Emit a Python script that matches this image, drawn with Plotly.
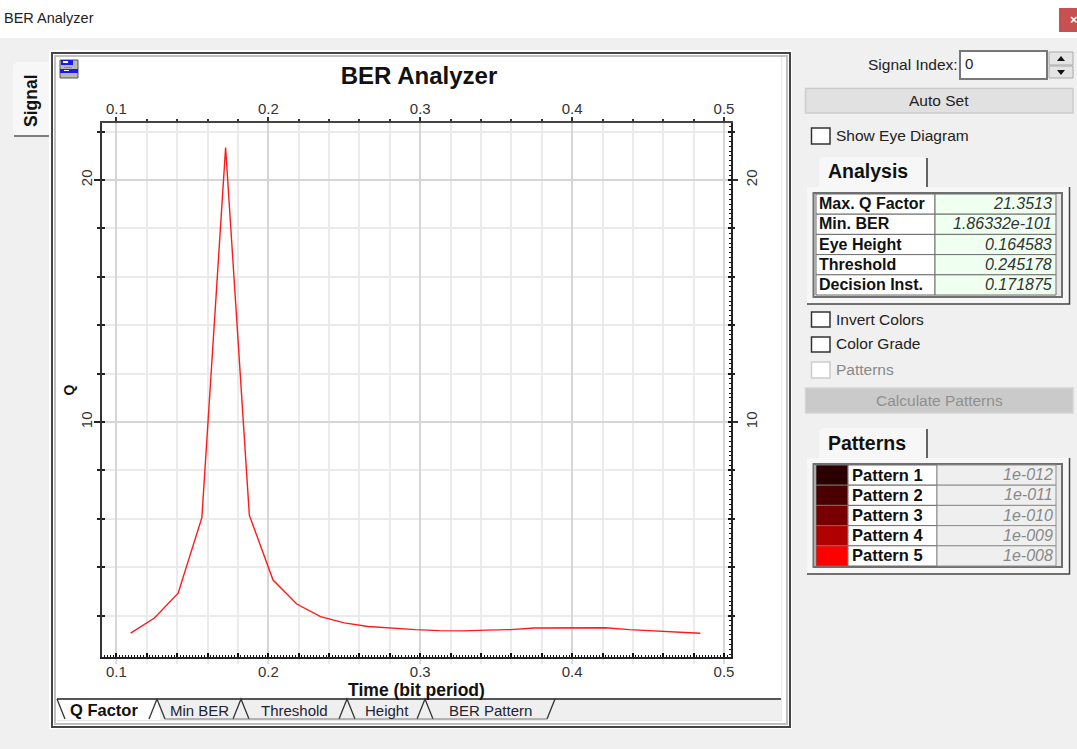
import plotly.graph_objects as go

W, H = 1077, 749

# ---- chart data ----
Q_TIME = [0.109375, 0.125, 0.140625, 0.15625, 0.171875, 0.1875, 0.203125, 0.21875,
          0.234375, 0.25, 0.265625, 0.28125, 0.296875, 0.3125, 0.328125, 0.34375,
          0.359375, 0.375, 0.390625, 0.40625, 0.421875, 0.4375, 0.453125, 0.46875, 0.484375]
Q_VALUES = [1.28, 1.90, 2.93, 6.05, 21.35, 6.15, 3.47, 2.48,
            1.96, 1.70, 1.55, 1.48, 1.42, 1.38, 1.37, 1.40,
            1.42, 1.49, 1.50, 1.50, 1.50, 1.42, 1.37, 1.32, 1.27]
X_RANGE = [0.0905, 0.5046]
Y_RANGE = [0.29, 22.36]

ANALYSIS_LABELS = ["Max. Q Factor", "Min. BER", "Eye Height", "Threshold", "Decision Inst."]
ANALYSIS_VALUES = ["21.3513", "1.86332e-101", "0.164583", "0.245178", "0.171875"]
PATTERN_LABELS = ["Pattern 1", "Pattern 2", "Pattern 3", "Pattern 4", "Pattern 5"]
PATTERN_VALUES = ["1e-012", "1e-011", "1e-010", "1e-009", "1e-008"]
PATTERN_COLORS = ["#2b0000", "#4a0000", "#780000", "#b00000", "#ff0000"]
TAB_LABELS = ["Min BER", "Threshold", "Height", "BER Pattern"]

FONT = "Liberation Sans"
BG = "#f0f0f0"


def X(p):
    return p / W


def Y(p):
    return 1 - p / H


shapes, annots = [], []


def rect(x0, y0, x1, y1, fill=None, line=None, lw=1):
    shapes.append(dict(type="rect", xref="paper", yref="paper", layer="below",
                       x0=X(x0), x1=X(x1), y0=Y(y1), y1=Y(y0),
                       fillcolor=fill or "rgba(0,0,0,0)",
                       line=dict(color=line or "rgba(0,0,0,0)", width=lw if line else 0)))


def poly(points, fill=None, line=None, lw=1, close=False):
    d = "M" + " L".join(f"{X(a):.5f},{Y(b):.5f}" for a, b in points) + (" Z" if close else "")
    shapes.append(dict(type="path", xref="paper", yref="paper", layer="below", path=d,
                       fillcolor=fill or "rgba(0,0,0,0)",
                       line=dict(color=line or "rgba(0,0,0,0)", width=lw if line else 0)))


def text(s, x, y, size=14, color="#222", anchor="left", bold=False, italic=False, angle=0):
    if bold:
        s = f"<b>{s}</b>"
    if italic:
        s = f"<i>{s}</i>"
    annots.append(dict(text=s, x=X(x), y=Y(y), xref="paper", yref="paper", showarrow=False,
                       xanchor=anchor, yanchor="middle", textangle=angle,
                       font=dict(family=FONT, size=size, color=color), borderpad=0, borderwidth=0))


# ---- window chrome ----
rect(0, 0, W, 38, "#ffffff")
text("BER Analyzer", 4, 18, 14.5, "#222")
rect(1059, 8, W, 32, "#c75050")
text("×", 1074, 20, 13, "#ffffff", "center", bold=True)

# ---- left tab ----
poly([(50, 62), (16, 62), (13, 66), (13, 135), (15, 137), (50, 137)], "#f7f7f7", None, close=True)
poly([(14, 136), (50, 136)], None, "#555555", 1.5)
text("Signal", 31, 101, 17.5, "#111", "center", bold=True, angle=-90)

# ---- chart panel ----
rect(49, 50, 792, 729, "#ffffff")
rect(52, 53, 790, 727, "#ffffff", "#444444", 2)
rect(55, 56, 787, 724, "#ffffff", "#c0c0c0", 2)
rect(781, 57, 782, 720, "#e8e8e8")
rect(57, 720, 782, 721, "#e4e4e4")

# icon
rect(60, 60, 78, 78, "#b8b8b8", "#555555", 1)
rect(61, 60, 73, 65, "#1a1aee")
rect(60, 69, 78, 73, "#1a1aee")
rect(63, 61, 68, 63, "#ffffff")
rect(64, 70, 69, 71, "#ffffff")
rect(64, 67, 72, 68, "#888888")

# ---- bottom tab strip ----
rect(160, 699, 781, 720, "#efefef")
poly([(57, 699), (65, 719), (150, 719), (157, 699)], "#ffffff", None, close=True)
poly([(57, 699), (781, 699)], None, "#555555", 2)
apex = [157, 241, 347, 425, 555]
poly([(57, 699), (65, 719)], None, "#333333", 1.3)
poly([(149, 719), (157, 699)], None, "#333333", 1.3)
poly([(157, 699), (165, 719)], None, "#333333", 1.3)
for a in apex[1:-1]:
    poly([(a - 8, 719), (a, 699), (a + 8, 719)], None, "#333333", 1.3)
poly([(547, 719), (555, 699)], None, "#333333", 1.3)
poly([(165, 719), (547, 719)], None, "#777777", 1)
text("Q Factor", 70, 710, 16.5, "#111", bold=True)
for lab, a, b in zip(TAB_LABELS, apex[:-1], apex[1:]):
    text(lab, (a + b) / 2 + 0.5, 710, 15, "#223", "center")

# ---- right side controls ----
text("Signal Index:", 958, 64, 15.5, "#222", "right")
rect(960, 51, 1047, 79, "#ffffff", "#777777", 2)
text("0", 965, 63, 15, "#222")
rect(1049, 52, 1073, 65, "#e4e4e4", "#aaaaaa", 1)
rect(1049, 66, 1073, 78, "#e4e4e4", "#aaaaaa", 1)
poly([(1057, 61), (1065, 61), (1061, 56)], "#111111", None, close=True)
poly([(1057, 70), (1065, 70), (1061, 75)], "#111111", None, close=True)
rect(805.5, 88.5, 1073, 113, "#e1e1e1", "#cccccc", 1.5)
text("Auto Set", 939, 100, 15.5, "#222", "center")


def checkbox(y0, y1, label, yt, color="#333333", tc="#222", fill="#ffffff"):
    rect(811.5, y0, 830, y1, fill, color, 1.5)
    text(label, 836, yt, 15.5, tc)


checkbox(128, 144, "Show Eye Diagram", 136)
checkbox(312, 327, "Invert Colors", 319)
checkbox(337, 352, "Color Grade", 344)
checkbox(362, 378, "Patterns", 370, "#cccccc", "#888888")
rect(805.5, 388, 1073, 413, "#cacaca", "#d4d4d4", 1.5)
text("Calculate Patterns", 939, 400, 15.5, "#8f8f8f", "center")


def group_tab(y0, y1, label):
    poly([(819, y1), (819, y0 + 3), (822, y0), (926, y0), (928, y0 + 2), (928, y1)], "#f7f7f7", None, close=True)
    poly([(927, y0 + 1), (927, y1 - 1)], None, "#333333", 1.5)
    text(label, 828, (y0 + y1) / 2 - 1, 19.5, "#111", bold=True)


def group_panel(y0, y1):
    rect(807, y0, 1070, y1, "#f7f7f7")
    poly([(1069.5, y0), (1069.5, y1), (807, y1)], None, "#444444", 1.5)
    rect(813.5, y0 + 6, 1062, y1 - 7, "#e8e8e8", "#6f6f6f", 2)


group_tab(157, 188, "Analysis")
group_panel(187, 304)
ROW_H = 20.2
for i, (lab, val) in enumerate(zip(ANALYSIS_LABELS, ANALYSIS_VALUES)):
    y0 = 194 + i * ROW_H
    rect(816, y0, 935, y0 + ROW_H, "#ffffff", "#6f6f6f", 1)
    rect(935, y0, 1056, y0 + ROW_H, "#effff0", "#6f6f6f", 1)
    text(lab, 819, y0 + ROW_H / 2 - 0.5, 16, "#111", bold=True)
    text(val, 1052, y0 + ROW_H / 2 - 0.5, 16, "#333", "right", italic=True)

group_tab(428, 459, "Patterns")
group_panel(458, 574)
for i, (lab, val, col) in enumerate(zip(PATTERN_LABELS, PATTERN_VALUES, PATTERN_COLORS)):
    y0 = 465 + i * ROW_H
    rect(816, y0, 848, y0 + ROW_H, col, "#6f6f6f", 1)
    rect(848, y0, 937, y0 + ROW_H, "#ffffff", "#6f6f6f", 1)
    rect(937, y0, 1056, y0 + ROW_H, "#efefef", "#8f8f8f", 1)
    text(lab, 852, y0 + ROW_H / 2 - 0.5, 16.5, "#111", bold=True)
    text(val, 1053, y0 + ROW_H / 2 - 0.5, 16, "#888", "right", italic=True)

# ---- chart ----
fig = go.Figure()
fig.add_trace(go.Scatter(x=Q_TIME, y=Q_VALUES, mode="lines", line=dict(color="#ff1a1a", width=1.4),
                         showlegend=False, hoverinfo="skip"))
for xa, ya in (("x2", "y2"), ("x3", "y3"), ("x2", "y4")):
    fig.add_trace(go.Scatter(x=[None], y=[None], xaxis=xa, yaxis=ya, mode="lines",
                             showlegend=False, hoverinfo="skip"))

tickfont = dict(family=FONT, size=15, color="#333333")
dom_x = [X(102), X(731)]
dom_y = [Y(657), Y(123)]
xbase = dict(domain=dom_x, range=X_RANGE, tick0=0.1, dtick=0.1, zeroline=False, tickfont=tickfont,
             tickangle=0, tickformat=".1f")
ybase = dict(domain=dom_y, range=Y_RANGE, tick0=0, dtick=10, zeroline=False, tickfont=tickfont, tickangle=-90)

fig.update_layout(
    width=W, height=H, margin=dict(l=0, r=0, t=0, b=0, autoexpand=False), autosize=False,
    paper_bgcolor=BG, plot_bgcolor="#ffffff", shapes=shapes, annotations=annots,
    showlegend=False,
    title=dict(text="<b>BER Analyzer</b>", x=X(419), y=Y(76), xanchor="center", yanchor="middle",
               xref="paper", yref="paper", font=dict(family=FONT, size=24, color="#111")),
    xaxis=dict(**xbase, anchor="y", side="bottom", showline=True, linecolor="#222222", linewidth=2,
               showgrid=True, gridcolor="#d6d6d6", gridwidth=2, ticks="outside", ticklen=5, tickwidth=2,
               tickcolor="#dddddd", ticklabelstandoff=-5,
               minor=dict(dtick=0.02, tick0=0.1, showgrid=True, gridcolor="#ebebeb", gridwidth=2,
                          ticks="outside", ticklen=5, tickwidth=2, tickcolor="#ebebeb"),
               title=dict(text="<b>Time (bit period)</b>", standoff=2,
                          font=dict(family=FONT, size=17.5, color="#111"))),
    yaxis=dict(**ybase, anchor="x", side="left", showline=True, linecolor="#333333", linewidth=2,
               showgrid=True, gridcolor="#d6d6d6", gridwidth=2, ticks="outside", ticklen=6, tickwidth=1.5,
               tickcolor="#222222", ticklabelstandoff=-4,
               minor=dict(dtick=2, tick0=0, showgrid=True, gridcolor="#ebebeb", gridwidth=2,
                          ticks="outside", ticklen=3, tickwidth=1.5, tickcolor="#222222"),
               title=dict(text="<b>Q</b>", standoff=0, font=dict(family=FONT, size=14, color="#111"))),
    xaxis2=dict(**xbase, anchor="y2", overlaying="x", side="top", showline=True, linecolor="#444444",
                linewidth=1.5, showgrid=False, ticks="outside", ticklen=4, tickwidth=1.5, tickcolor="#333333",
                ticklabelstandoff=-3,
                minor=dict(dtick=0.02, tick0=0.1, showgrid=False, ticks="outside", ticklen=2, tickwidth=1.5,
                           tickcolor="#333333")),
    yaxis2=dict(**ybase, anchor="x2", overlaying="y", side="right", showline=True, linecolor="#222222",
                linewidth=2, showgrid=False, ticks="outside", ticklen=5, tickwidth=1.5, tickcolor="#333333",
                ticklabelstandoff=1,
                minor=dict(dtick=2, tick0=0, showgrid=False, ticks="outside", ticklen=2, tickwidth=1.5,
                           tickcolor="#222222")),
    xaxis3=dict(domain=dom_x, range=X_RANGE, tick0=0.1, dtick=0.02, anchor="y3", overlaying="x", side="bottom",
                showgrid=False, zeroline=False, showticklabels=False, ticks="inside", ticklen=4, tickwidth=1.5,
                tickcolor="#111111",
                minor=dict(dtick=0.002, tick0=0.1, showgrid=False, ticks="inside", ticklen=2, tickwidth=1,
                           tickcolor="#111111")),
    yaxis3=dict(domain=dom_y, range=Y_RANGE, tick0=0, dtick=2, anchor="x3", overlaying="y", side="left",
                showgrid=False, zeroline=False, showticklabels=False, ticks="inside", ticklen=3, tickwidth=1.5,
                tickcolor="#222222"),
    yaxis4=dict(domain=dom_y, range=Y_RANGE, tick0=0, dtick=2, anchor="x2", overlaying="y", side="right",
                showgrid=False, zeroline=False, showticklabels=False, ticks="inside", ticklen=3, tickwidth=1.5,
                tickcolor="#111111",
                minor=dict(dtick=0.2, tick0=0, showgrid=False, ticks="inside", ticklen=2, tickwidth=1,
                           tickcolor="#111111")),
)

fig.write_html("out.html", config={"displayModeBar": False},
               post_script="document.body.style.margin='0';document.documentElement.style.overflow='hidden';")
